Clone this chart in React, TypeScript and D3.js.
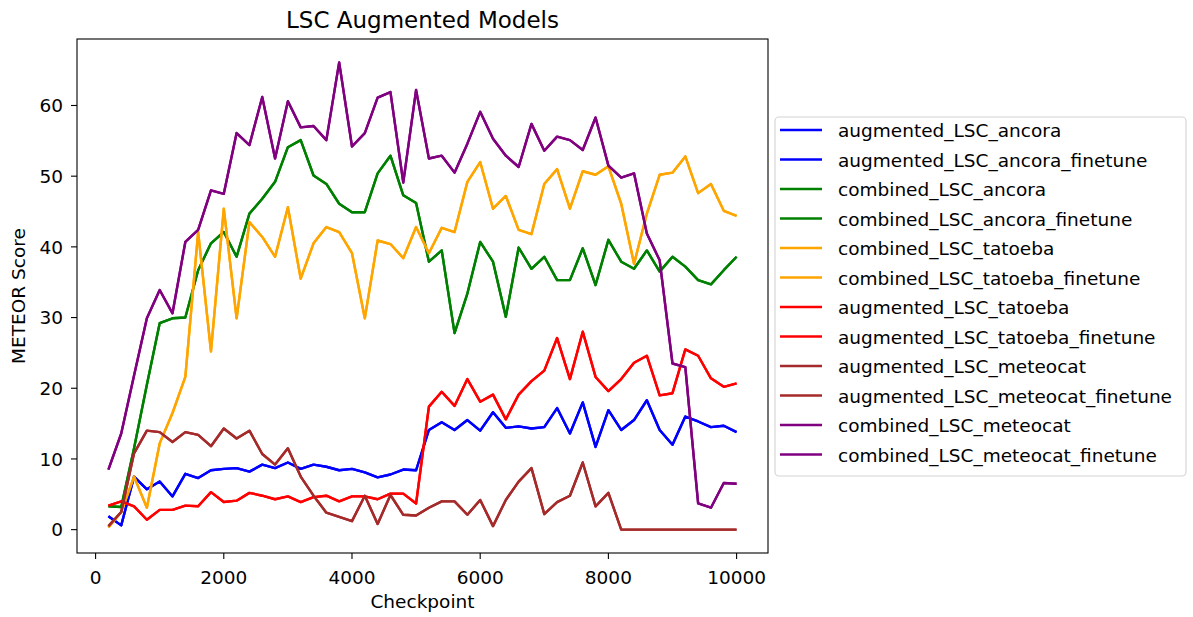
import React from "react";
import * as d3 from "d3";

// checkpoints on the x axis
const checkpoints = [
  200, 400, 600, 800, 1000, 1200, 1400, 1600, 1800, 2000,
  2200, 2400, 2600, 2800, 3000, 3200, 3400, 3600, 3800, 4000,
  4200, 4400, 4600, 4800, 5000, 5200, 5400, 5600, 5800, 6000,
  6200, 6400, 6600, 6800, 7000, 7200, 7400, 7600, 7800, 8000,
  8200, 8400, 8600, 8800, 9000, 9200, 9400, 9600, 9800, 10000,
];

// METEOR scores
const augmentedAncora = [
  1.9, 0.6, 7.5, 5.7, 6.8, 4.7, 7.9, 7.3, 8.4, 8.6,
  8.7, 8.2, 9.2, 8.7, 9.5, 8.6, 9.2, 8.9, 8.4, 8.6,
  8.1, 7.4, 7.8, 8.5, 8.4, 14.1, 15.2, 14.1, 15.5, 14.0,
  16.6, 14.4, 14.6, 14.3, 14.5, 17.2, 13.6, 18.0, 11.7, 16.9,
  14.1, 15.5, 18.3, 14.1, 12.0, 16.0, 15.3, 14.5, 14.7, 13.8,
];
const combinedAncora = [
  3.3, 3.2, 11.5, 20.5, 29.2, 29.9, 30.0, 36.7, 40.5, 42.1,
  38.6, 44.7, 46.8, 49.2, 54.1, 55.1, 50.1, 48.9, 46.1, 44.9,
  44.9, 50.4, 52.9, 47.3, 46.2, 37.9, 39.5, 27.8, 33.4, 40.7,
  37.9, 30.1, 39.9, 36.9, 38.6, 35.3, 35.3, 39.8, 34.6, 41.0,
  37.9, 36.9, 39.5, 36.5, 38.6, 37.2, 35.3, 34.7, 36.7, 38.6,
];
const combinedTatoeba = [
  0.3, 2.5, 7.5, 3.1, 12.2, 16.5, 21.6, 42.1, 25.2, 45.4,
  29.9, 43.5, 41.4, 38.6, 45.6, 35.5, 40.5, 42.8, 42.1, 39.1,
  29.9, 40.9, 40.4, 38.4, 42.8, 39.1, 42.7, 42.1, 49.2, 52.0,
  45.4, 47.2, 42.4, 41.8, 48.9, 51.0, 45.4, 50.7, 50.2, 51.4,
  46.1, 37.6, 44.7, 50.2, 50.5, 52.8, 47.6, 48.9, 45.1, 44.4,
];
const augmentedTatoeba = [
  3.4, 4.0, 3.3, 1.4, 2.8, 2.8, 3.4, 3.3, 5.3, 3.9,
  4.1, 5.2, 4.8, 4.3, 4.7, 3.9, 4.6, 4.8, 4.0, 4.7,
  4.7, 4.3, 5.1, 5.1, 3.7, 17.4, 19.5, 17.5, 21.3, 18.1,
  19.1, 15.6, 19.1, 21.0, 22.5, 27.1, 21.3, 28.0, 21.6, 19.6,
  21.3, 23.6, 24.6, 19.0, 19.3, 25.5, 24.6, 21.4, 20.2, 20.7,
];
const augmentedMeteocat = [
  0.5, 2.5, 10.8, 14.0, 13.8, 12.4, 13.8, 13.4, 11.8, 14.3,
  12.9, 14.0, 10.7, 9.2, 11.5, 7.5, 4.8, 2.4, 1.8, 1.2,
  4.8, 0.8, 4.9, 2.1, 2.0, 3.1, 4.0, 4.0, 2.1, 4.2,
  0.5, 4.2, 6.8, 8.7, 2.2, 3.9, 4.8, 9.5, 3.3, 5.2,
  0, 0, 0, 0, 0, 0, 0, 0, 0, 0,
];
const combinedMeteocat = [
  8.5, 13.6, 21.8, 29.9, 33.9, 30.6, 40.7, 42.4, 48.0, 47.5,
  56.1, 54.4, 61.2, 52.5, 60.6, 56.9, 57.1, 55.1, 66.1, 54.2,
  56.1, 61.1, 61.9, 49.1, 62.2, 52.5, 52.9, 50.5, 54.6, 59.1,
  55.3, 52.9, 51.3, 57.4, 53.6, 55.6, 55.1, 53.7, 58.3, 51.5,
  49.8, 50.4, 41.9, 38.1, 23.5, 23.0, 3.7, 3.1, 6.6, 6.5,
];

// the finetune runs sit exactly on top of their base runs in the chart
const seriesNames = [
  "augmented_LSC_ancora",
  "augmented_LSC_ancora_finetune",
  "combined_LSC_ancora",
  "combined_LSC_ancora_finetune",
  "combined_LSC_tatoeba",
  "combined_LSC_tatoeba_finetune",
  "augmented_LSC_tatoeba",
  "augmented_LSC_tatoeba_finetune",
  "augmented_LSC_meteocat",
  "augmented_LSC_meteocat_finetune",
  "combined_LSC_meteocat",
  "combined_LSC_meteocat_finetune",
];
const seriesValues = [
  augmentedAncora, augmentedAncora,
  combinedAncora, combinedAncora,
  combinedTatoeba, combinedTatoeba,
  augmentedTatoeba, augmentedTatoeba,
  augmentedMeteocat, augmentedMeteocat,
  combinedMeteocat, combinedMeteocat,
];
const seriesColors = [
  "blue", "blue", "green", "green", "orange", "orange",
  "red", "red", "brown", "brown", "purple", "purple",
];

const xTicks = [0, 2000, 4000, 6000, 8000, 10000];
const yTicks = [0, 10, 20, 30, 40, 50, 60];

const W = 1193;
const H = 617;
const left = 77;
const right = 768;
const top = 39;
const bottom = 553;
const font = "DejaVu Sans, Verdana, sans-serif";

export default function App() {
  // matplotlib style 5% padding
  const xExt = d3.extent(checkpoints) as [number, number];
  const xPad = (xExt[1] - xExt[0]) * 0.05;
  const x = d3.scaleLinear().domain([xExt[0] - xPad, xExt[1] + xPad]).range([left, right]);

  const all = seriesValues.flat();
  const yMin = d3.min(all)!;
  const yMax = d3.max(all)!;
  const yPad = (yMax - yMin) * 0.05;
  const y = d3.scaleLinear().domain([yMin - yPad, yMax + yPad]).range([bottom, top]);

  const line = d3
    .line<number>()
    .x((_, i) => x(checkpoints[i]))
    .y((d) => y(d));

  const legendX = 775;
  const legendTop = 117;
  const rowGap = 29.5;

  return (
    <svg
      width={W}
      height={H}
      style={{ position: "absolute", left: 0, top: 0, background: "#fff" }}
      fontFamily={font}
    >
      <rect width={W} height={H} fill="#fff" />
      <defs>
        <clipPath id="plotClip">
          <rect x={left} y={top} width={right - left} height={bottom - top} />
        </clipPath>
      </defs>

      {/* lines */}
      <g clipPath="url(#plotClip)">
        {seriesValues.map((vals, i) => (
          <path
            key={seriesNames[i]}
            d={line(vals) || ""}
            fill="none"
            stroke={seriesColors[i]}
            strokeWidth={2.4}
            strokeLinejoin="round"
          />
        ))}
      </g>

      {/* axes frame */}
      <rect x={left} y={top} width={right - left} height={bottom - top} fill="none" stroke="#000" strokeWidth={1.1} />

      {/* x ticks */}
      {xTicks.map((t) => (
        <g key={"x" + t}>
          <line x1={x(t)} x2={x(t)} y1={bottom} y2={bottom + 6} stroke="#000" strokeWidth={1.1} />
          <text x={x(t)} y={bottom + 31} fontSize={18.5} textAnchor="middle" fill="#000">
            {t}
          </text>
        </g>
      ))}

      {/* y ticks */}
      {yTicks.map((t) => (
        <g key={"y" + t}>
          <line x1={left - 6} x2={left} y1={y(t)} y2={y(t)} stroke="#000" strokeWidth={1.1} />
          <text x={left - 14} y={y(t) + 6.7} fontSize={18.5} textAnchor="end" fill="#000">
            {t}
          </text>
        </g>
      ))}

      {/* labels and title */}
      <text x={(left + right) / 2} y={608} fontSize={18.5} textAnchor="middle">
        Checkpoint
      </text>
      <text transform={`translate(25, ${(top + bottom) / 2}) rotate(-90)`} fontSize={18.5} textAnchor="middle">
        METEOR Score
      </text>
      <text x={(left + right) / 2} y={28} fontSize={23} textAnchor="middle">
        LSC Augmented Models
      </text>

      {/* legend */}
      <rect
        x={legendX}
        y={legendTop}
        width={1186 - legendX}
        height={476 - legendTop}
        rx={4}
        fill="#fff"
        stroke="#d4d4d4"
        strokeWidth={1.1}
      />
      {seriesNames.map((name, i) => {
        const ry = 130 + i * rowGap;
        return (
          <g key={"lg" + name}>
            <line x1={780} x2={822} y1={ry} y2={ry} stroke={seriesColors[i]} strokeWidth={2.4} />
            <text x={838} y={ry + 7} fontSize={18.5} fill="#000">
              {name}
            </text>
          </g>
        );
      })}
    </svg>
  );
}
